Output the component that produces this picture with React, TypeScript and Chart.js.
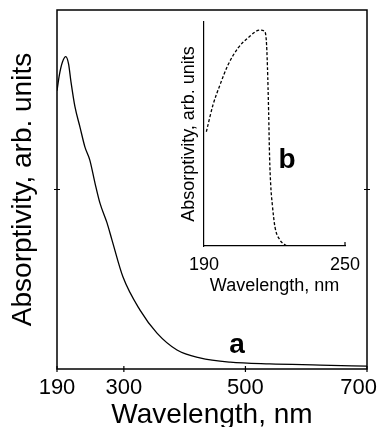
import React, { useEffect, useRef } from 'react';
import { Chart, registerables } from 'chart.js';

Chart.register(...registerables);

// Main spectrum (curve a)
const mainWavelength = [190, 194, 199, 204.5, 209, 213, 219.6, 227.8, 236, 244, 252.5, 260.7, 272.3, 280.5, 298.6, 326.6, 354.5, 387.4, 425, 475, 540, 623, 700];
const mainAbsorptivity = [77.5, 82, 85.5, 87, 85, 80, 73, 67.4, 61.8, 58.2, 51.8, 46.2, 40.7, 35.9, 25.6, 16.4, 10.0, 5.3, 3.1, 1.9, 1.4, 1.1, 0.8];
const mainTicks = [190, 300, 500, 700];

// Inset spectrum (curve b)
const insetWavelength = [191.0, 193.8, 196.8, 200.2, 204.5, 208.7, 213.8, 215.6, 216.5, 217.0, 217.5, 217.9, 218.4, 219.0, 220.2, 222.3, 225.3];
const insetAbsorptivity = [51, 62.9, 71.9, 80.8, 88.4, 92.9, 96.4, 96, 92, 80, 60, 40, 27, 19.2, 8.5, 2.7, 0];
const insetTicks = [190, 250];

const FONT = '"Liberation Sans", Arial, Helvetica, sans-serif';

const mainFramePlugin = {
  id: 'mainFrame',
  afterDraw(chart: any) {
    const { ctx, chartArea: a, scales } = chart;
    const x = scales.x;
    const y = scales.y;
    ctx.save();
    ctx.strokeStyle = '#000';
    ctx.lineWidth = 1.5;
    ctx.strokeRect(a.left, a.top, a.right - a.left, a.bottom - a.top);
    ctx.lineWidth = 1.2;
    ctx.beginPath();
    for (const t of mainTicks) {
      const px = x.getPixelForValue(t);
      ctx.moveTo(px, a.bottom - 3);
      ctx.lineTo(px, a.bottom + 3);
    }
    const py = y.getPixelForValue(50);
    ctx.moveTo(a.left - 3, py);
    ctx.lineTo(a.left + 3, py);
    ctx.moveTo(a.right - 3, py);
    ctx.lineTo(a.right + 3, py);
    ctx.stroke();
    ctx.fillStyle = '#000';
    ctx.font = `bold 28px ${FONT}`;
    ctx.textAlign = 'center';
    ctx.textBaseline = 'middle';
    ctx.fillText('a', x.getPixelForValue(486), y.getPixelForValue(6.7));
    ctx.restore();
  },
};

const insetFramePlugin = {
  id: 'insetFrame',
  afterDraw(chart: any) {
    const { ctx, chartArea: a, scales } = chart;
    const x = scales.x;
    const y = scales.y;
    ctx.save();
    ctx.strokeStyle = '#000';
    ctx.lineWidth = 1.2;
    ctx.beginPath();
    const px = x.getPixelForValue(250);
    ctx.moveTo(px, a.bottom - 4);
    ctx.lineTo(px, a.bottom);
    ctx.stroke();
    ctx.fillStyle = '#000';
    ctx.font = `bold 28px ${FONT}`;
    ctx.textAlign = 'center';
    ctx.textBaseline = 'middle';
    ctx.fillText('b', x.getPixelForValue(225.3), y.getPixelForValue(38.4));
    ctx.restore();
  },
};

function zeroPad(s: any) {
  s.paddingLeft = 0;
  s.paddingRight = 0;
  s.paddingTop = 0;
  s.paddingBottom = 0;
}

function MainChart() {
  const ref = useRef<HTMLCanvasElement>(null);
  useEffect(() => {
    const chart = new Chart(ref.current as HTMLCanvasElement, {
      type: 'line',
      data: {
        datasets: [
          {
            data: mainWavelength.map((w, i) => ({ x: w, y: mainAbsorptivity[i] })),
            borderColor: '#000',
            borderWidth: 1.3,
            pointRadius: 0,
            fill: false,
            cubicInterpolationMode: 'monotone',
          },
        ],
      },
      options: {
        animation: false,
        responsive: false,
        layout: { padding: { top: 10, right: 12, left: 0, bottom: 0 }, autoPadding: false },
        plugins: { legend: { display: false }, tooltip: { enabled: false } },
        scales: {
          x: {
            type: 'linear',
            min: 190,
            max: 700,
            afterBuildTicks: (s: any) => {
              s.ticks = mainTicks.map((v) => ({ value: v }));
            },
            afterFit: (s: any) => {
              s.height = 58;
              zeroPad(s);
            },
            grid: { display: false, drawTicks: false },
            border: { display: false },
            ticks: {
              color: '#000',
              font: { family: FONT, size: 22 },
              padding: 6,
              maxRotation: 0,
              autoSkip: false,
              callback: (v: any) => (v === 700 ? '700\u2007\u2009' : String(v)),
            },
            title: {
              display: true,
              text: 'Wavelength, nm',
              color: '#000',
              font: { family: FONT, size: 28, lineHeight: 0.85 },
              padding: { top: 0, bottom: 0 },
            },
          },
          y: {
            type: 'linear',
            min: 0,
            max: 100,
            afterFit: (s: any) => {
              s.width = 57;
              zeroPad(s);
            },
            grid: { display: false, drawTicks: false },
            border: { display: false },
            ticks: { display: false },
            title: {
              display: true,
              text: 'Absorptivity, arb. units',
              color: '#000',
              font: { family: FONT, size: 28, lineHeight: 1.2 },
              padding: { top: 6, bottom: 0 },
            },
          },
        },
      },
      plugins: [mainFramePlugin],
    } as any);
    return () => chart.destroy();
  }, []);
  return <canvas ref={ref} width={379} height={427} style={{ position: 'absolute', left: 0, top: 0 }} />;
}

function InsetChart() {
  const ref = useRef<HTMLCanvasElement>(null);
  useEffect(() => {
    const chart = new Chart(ref.current as HTMLCanvasElement, {
      type: 'line',
      data: {
        datasets: [
          {
            data: insetWavelength.map((w, i) => ({ x: w, y: insetAbsorptivity[i] })),
            borderColor: '#000',
            borderWidth: 1.3,
            borderDash: [3, 2],
            pointRadius: 0,
            fill: false,
            cubicInterpolationMode: 'monotone',
          },
        ],
      },
      options: {
        animation: false,
        responsive: false,
        layout: { padding: { top: 12, right: 20, left: 0, bottom: 0 }, autoPadding: false },
        plugins: { legend: { display: false }, tooltip: { enabled: false } },
        scales: {
          x: {
            type: 'linear',
            min: 190,
            max: 250,
            afterBuildTicks: (s: any) => {
              s.ticks = insetTicks.map((v) => ({ value: v }));
            },
            afterFit: (s: any) => {
              s.height = 59;
              zeroPad(s);
            },
            grid: { display: false, drawTicks: false },
            border: { display: true, color: '#000', width: 1.2 },
            ticks: {
              color: '#000',
              font: { family: FONT, size: 18 },
              padding: 8,
              maxRotation: 0,
              autoSkip: false,
            },
            title: {
              display: true,
              text: 'Wavelength, nm',
              color: '#000',
              font: { family: FONT, size: 18, lineHeight: 1.2 },
              padding: { top: 0, bottom: 8 },
            },
          },
          y: {
            type: 'linear',
            min: 0,
            max: 100,
            afterFit: (s: any) => {
              s.width = 34;
              zeroPad(s);
            },
            grid: { display: false, drawTicks: false },
            border: { display: true, color: '#000', width: 1.2 },
            ticks: { display: false },
            title: {
              display: true,
              text: 'Absorptivity, arb. units',
              color: '#000',
              font: { family: FONT, size: 18, lineHeight: 1.2 },
              padding: { top: 8, bottom: 0 },
            },
          },
        },
      },
      plugins: [insetFramePlugin],
    } as any);
    return () => chart.destroy();
  }, []);
  return <canvas ref={ref} width={195} height={295} style={{ position: 'absolute', left: 170, top: 10 }} />;
}

export default function App() {
  return (
    <div style={{ position: 'fixed', left: 0, top: 0, width: 379, height: 427, background: '#fff', overflow: 'hidden' }}>
      <MainChart />
      <InsetChart />
    </div>
  );
}
